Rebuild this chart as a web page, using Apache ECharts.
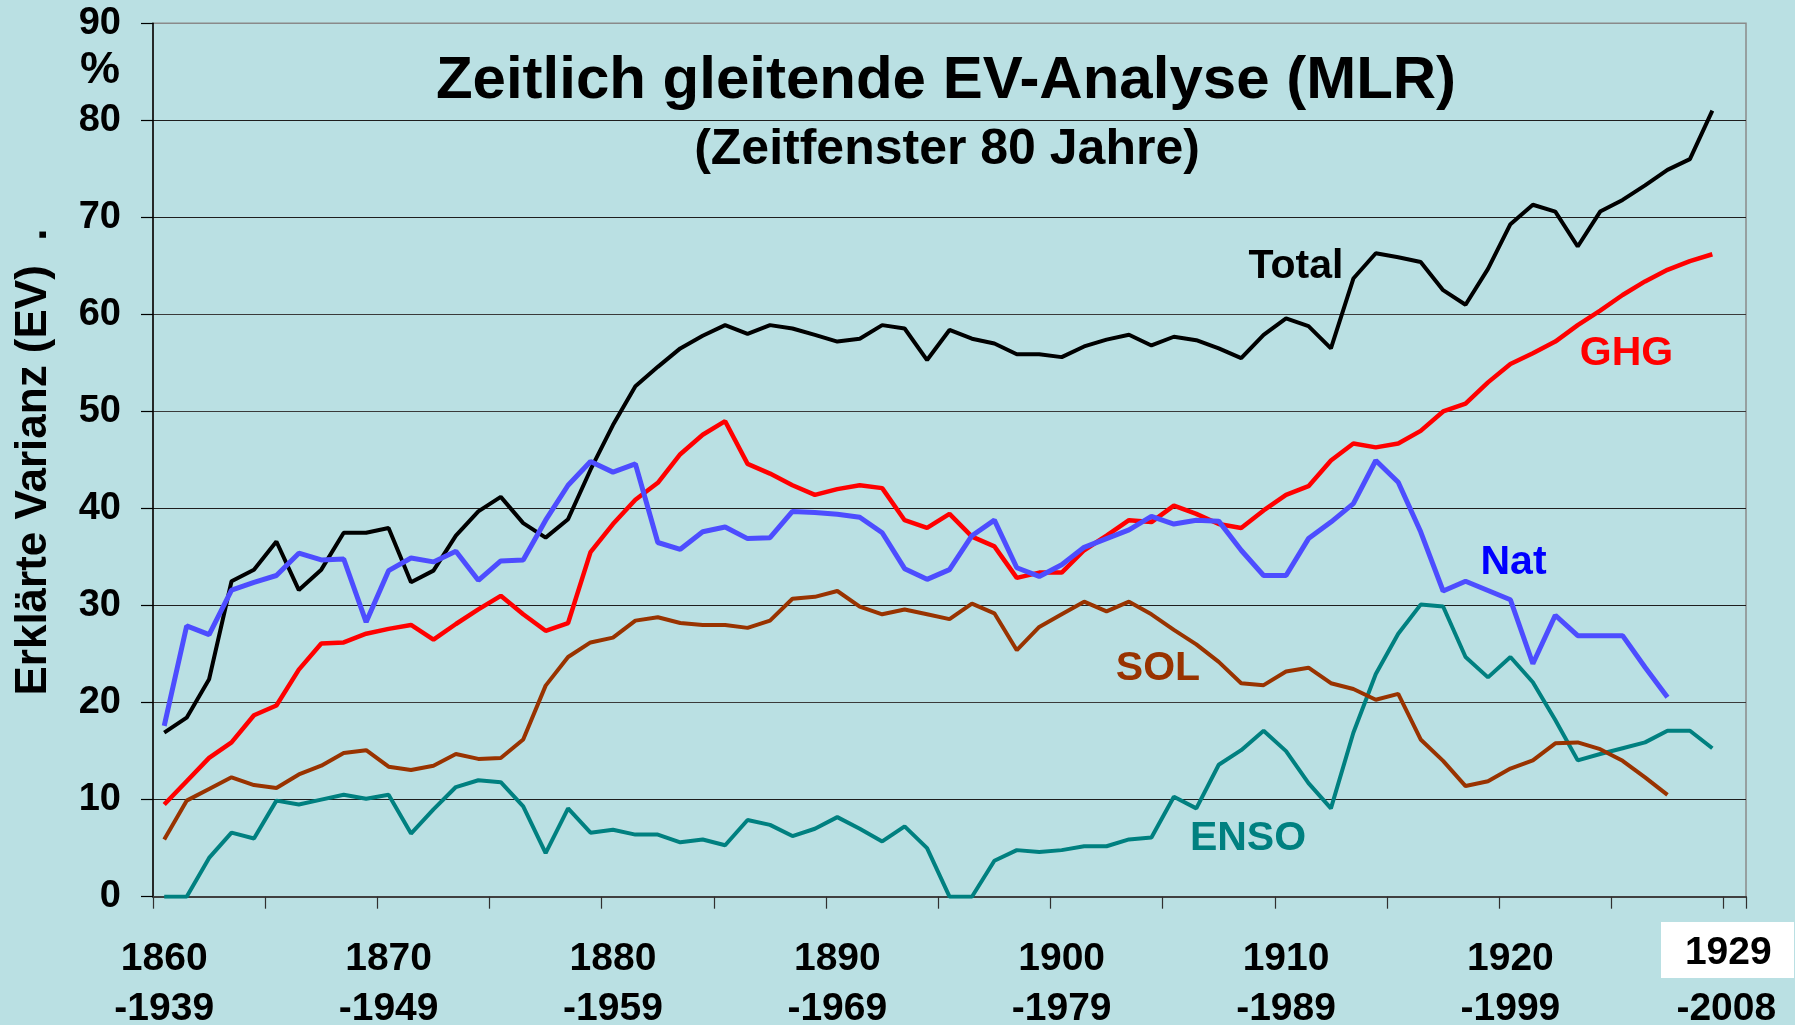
<!DOCTYPE html>
<html>
<head>
<meta charset="utf-8">
<script src="https://cdn.jsdelivr.net/npm/echarts@6/dist/echarts.min.js"></script>
<style>
html,body{margin:0;padding:0;background:#BAE0E3;overflow:hidden;}
#c{width:1795px;height:1025px;}
</style>
</head>
<body>
<div id="c"></div>
<script>
// window start years (categories); last category carries the final label
const categories = ['1860','1861','1862','1863','1864','1865','1866','1867','1868','1869',
  '1870','1871','1872','1873','1874','1875','1876','1877','1878','1879',
  '1880','1881','1882','1883','1884','1885','1886','1887','1888','1889',
  '1890','1891','1892','1893','1894','1895','1896','1897','1898','1899',
  '1900','1901','1902','1903','1904','1905','1906','1907','1908','1909',
  '1910','1911','1912','1913','1914','1915','1916','1917','1918','1919',
  '1920','1921','1922','1923','1924','1925','1926','1927','1928','1929','1930'];

const tickStart = ['1860','1870','1880','1890','1900','1910','1920','1929'];
const tickEnd   = ['-1939','-1949','-1959','-1969','-1979','-1989','-1999','-2008'];
const yTicks = [0,10,20,30,40,50,60,70,80,90];

const total = [16.9,18.45,22.4,32.5,33.7,36.6,31.6,33.7,37.5,37.5,
  38.0,32.4,33.6,37.2,39.7,41.2,38.5,37.0,38.9,44.0,
  48.6,52.6,54.6,56.5,57.8,58.9,58.0,58.9,58.55,57.9,
  57.2,57.5,58.9,58.55,55.3,58.4,57.5,57.0,55.9,55.9,
  55.6,56.7,57.4,57.9,56.8,57.7,57.35,56.5,55.5,57.9,
  59.6,58.8,56.5,63.7,66.3,65.9,65.4,62.5,61.0,64.7,
  69.3,71.3,70.6,67.0,70.6,71.8,73.3,74.9,76.0,81.0];

const ghg = [9.5,11.9,14.3,15.9,18.7,19.7,23.4,26.1,26.2,27.1,
  27.6,28.0,26.5,28.1,29.6,31.0,29.1,27.4,28.2,35.5,
  38.4,40.9,42.65,45.6,47.6,49.0,44.6,43.6,42.4,41.4,
  42.0,42.4,42.1,38.8,38.0,39.45,37.1,36.1,32.85,33.4,
  33.4,35.7,37.2,38.8,38.6,40.3,39.45,38.4,38.0,39.8,
  41.4,42.3,44.95,46.7,46.3,46.7,48.0,50.0,50.8,53.0,
  54.9,56.0,57.2,58.9,60.4,62.0,63.4,64.6,65.5,66.2];

const nat = [17.6,27.9,27.0,31.6,32.4,33.1,35.4,34.7,34.8,28.3,
  33.6,34.9,34.5,35.6,32.6,34.6,34.7,38.8,42.4,44.85,
  43.75,44.6,36.5,35.8,37.6,38.1,36.9,37.0,39.7,39.6,
  39.4,39.1,37.5,33.8,32.7,33.7,37.2,38.8,33.9,33.0,
  34.2,36.0,36.9,37.8,39.2,38.4,38.8,38.7,35.7,33.1,
  33.1,36.9,38.6,40.5,44.95,42.7,37.6,31.5,32.5,31.55,
  30.6,24.0,29.0,26.9,26.9,26.9,23.65,20.55];

const sol = [5.9,9.9,11.1,12.3,11.5,11.2,12.6,13.5,14.8,15.1,
  13.4,13.05,13.5,14.7,14.2,14.3,16.2,21.75,24.7,26.2,
  26.7,28.45,28.8,28.2,28.0,28.0,27.7,28.45,30.7,30.9,
  31.5,29.9,29.1,29.6,29.1,28.6,30.2,29.2,25.4,27.8,
  29.1,30.4,29.4,30.4,29.1,27.5,26.0,24.2,22.0,21.8,
  23.2,23.6,22.0,21.4,20.3,20.9,16.2,14.0,11.4,11.9,
  13.2,14.05,15.8,15.9,15.2,14.0,12.3,10.5];

const enso = [0,0,4.0,6.6,6.0,9.9,9.5,10.0,10.5,10.1,
  10.5,6.5,9.0,11.3,12.0,11.8,9.3,4.5,9.1,6.6,
  6.9,6.4,6.4,5.6,5.9,5.3,7.9,7.4,6.25,7.0,
  8.2,7.0,5.7,7.25,5.0,0,0,3.7,4.8,4.6,
  4.8,5.2,5.2,5.9,6.1,10.3,9.1,13.6,15.1,17.1,
  15.0,11.7,9.1,16.9,22.95,27.1,30.1,29.9,24.7,22.6,
  24.7,22.1,18.2,14.05,14.7,15.3,15.9,17.1,17.1,15.3];

const FF = "'Liberation Sans', Arial, Helvetica, sans-serif";

const chart = echarts.init(document.getElementById('c'), null, {renderer: 'canvas'});

function txt(text, x, y, size, color, rot) {
  return {
    type: 'text', x: x, y: y, rotation: rot || 0, z: 10,
    style: {
      text: text, fill: color,
      font: 'bold ' + size + 'px ' + FF,
      align: 'center', verticalAlign: 'middle',
      textAlign: 'center', textVerticalAlign: 'middle'
    }
  };
}

const option = {
  backgroundColor: '#BAE0E3',
  animation: false,
  grid: {
    left: 153, right: 49, top: 23.3, bottom: 128.3,
    outerBoundsMode: 'none',
    containLabel: false,
    show: true, borderColor: '#8a8a8a', borderWidth: 1.5,
    backgroundColor: 'transparent'
  },
  graphic: [
    {type: 'rect', z: -50, shape: {x: 1661, y: 922, width: 133, height: 56}, style: {fill: '#ffffff'}},
    txt('Zeitlich gleitende EV-Analyse (MLR)', 946, 81.4, 60, '#000'),
    txt('(Zeitfenster 80 Jahre)', 947, 150.2, 50, '#000'),
    txt('%', 100, 71, 45, '#000'),
    txt('Erklärte Varianz (EV)  .', 34.2, 462, 44, '#000', Math.PI / 2),
    txt('Total', 1296, 266.6, 41, '#000'),
    txt('GHG', 1626.5, 353.8, 41, '#FF0000'),
    txt('Nat', 1513.5, 562.3, 41, '#0000FF'),
    txt('SOL', 1158, 669, 41, '#993300'),
    txt('ENSO', 1248, 839, 41, '#008080')
  ],
  xAxis: {
    type: 'category',
    data: categories,
    boundaryGap: true,
    axisLine: {show: true, lineStyle: {color: '#404040', width: 2}},
    axisTick: {show: true, interval: 4, length: 12, lineStyle: {color: '#303030', width: 1.2}},
    splitLine: {show: false},
    axisLabel: {
      interval: 9,
      margin: 37.6,
      color: '#000',
      fontSize: 39,
      fontWeight: 'bold',
      fontFamily: FF,
      lineHeight: 50,
      formatter: function (value, index) {
        if (index % 10 !== 0) return '';
        const k = index / 10;
        if (k === tickStart.length - 1) {
          return '{a|' + tickStart[k] + '}\n{b|' + tickEnd[k] + '}';
        }
        return tickStart[k] + '\n' + tickEnd[k];
      },
      rich: {
        a: {fontSize: 39, fontWeight: 'bold', fontFamily: FF, color: '#000', lineHeight: 37, padding: [0, 13, 0, 0]},
        b: {fontSize: 39, fontWeight: 'bold', fontFamily: FF, color: '#000', lineHeight: 76, padding: [0, 17, 0, 0]}
      }
    }
  },
  yAxis: {
    type: 'value',
    min: yTicks[0], max: yTicks[yTicks.length - 1], interval: 10,
    axisLine: {show: true, lineStyle: {color: '#000', width: 1.5}},
    axisTick: {show: true, length: 12, lineStyle: {color: '#000', width: 1.2}},
    splitLine: {show: true, lineStyle: {color: ['#404040','#1e1e1e','#3a3a3a','#1e1e1e','#1e1e1e','#3a3a3a','#3a3a3a','#1e1e1e','#1e1e1e','#8a8a8a'], width: 1.2}},
    axisLabel: {
      margin: 32, color: '#000', fontSize: 38, fontWeight: 'bold', fontFamily: FF,
      padding: [10, 0, 0, 0]
    }
  },
  series: [
    {name: 'ENSO', type: 'line', data: enso, symbol: 'none', lineStyle: {color: '#008080', width: 4}, itemStyle: {color: '#008080'}},
    {name: 'SOL', type: 'line', data: sol, symbol: 'none', lineStyle: {color: '#993300', width: 4}, itemStyle: {color: '#993300'}},
    {name: 'GHG', type: 'line', data: ghg, symbol: 'none', lineStyle: {color: '#FF0000', width: 4.5}, itemStyle: {color: '#FF0000'}},
    {name: 'Total', type: 'line', data: total, symbol: 'none', lineStyle: {color: '#000000', width: 4}, itemStyle: {color: '#000'}},
    {name: 'Nat', type: 'line', data: nat, symbol: 'none', lineStyle: {color: '#4D4DFF', width: 5}, itemStyle: {color: '#4D4DFF'}}
  ]
};
chart.setOption(option);
</script>
</body>
</html>
